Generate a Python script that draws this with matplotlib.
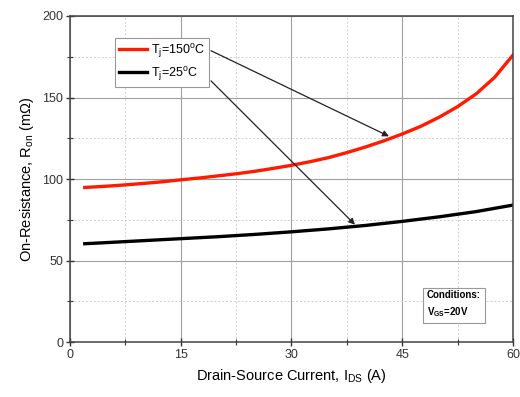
import matplotlib
matplotlib.use("Agg")
import matplotlib.pyplot as plt
from matplotlib.ticker import MultipleLocator

plt.rcParams['font.family'] = ['Liberation Sans', 'DejaVu Sans']
plt.rcParams['mathtext.default'] = 'regular'

# On-resistance vs drain current, read at two junction temperatures
ids_150 = [2, 5, 7.5, 10, 12.5, 15, 17.5, 20, 22.5, 25, 27.5, 30, 32.5, 35,
           37.5, 40, 42.5, 45, 47.5, 50, 52.5, 55, 57.5, 60]
ron_150 = [94.8, 95.6, 96.4, 97.3, 98.3, 99.5, 100.6, 101.9, 103.2, 104.7,
           106.5, 108.4, 110.6, 113.1, 116.2, 119.6, 123.4, 127.6, 132.3,
           137.9, 144.4, 152.2, 162.3, 176.0]

ids_25 = [2, 5, 10, 15, 20, 25, 30, 35, 40, 45, 50, 55, 60]
ron_25 = [60.3, 61.0, 62.2, 63.4, 64.6, 66.0, 67.6, 69.4, 71.5, 74.0, 76.8,
          80.0, 84.0]

labels = ['T$_j$=150$^o$C', 'T$_j$=25$^o$C']

fig = plt.figure(figsize=(5.2, 3.97), dpi=100)
ax = fig.add_axes([0.1346, 0.1385, 0.8519, 0.8212])

ax.plot(ids_150, ron_150, color='#ff1a00', lw=2.4, label=labels[0])
ax.plot(ids_25, ron_25, color='black', lw=2.4, label=labels[1])

ax.set_xlim(0, 60)
ax.set_ylim(0, 200)
ax.xaxis.set_major_locator(MultipleLocator(15))
ax.xaxis.set_minor_locator(MultipleLocator(7.5))
ax.yaxis.set_major_locator(MultipleLocator(50))
ax.yaxis.set_minor_locator(MultipleLocator(25))

ax.grid(which='major', color='#a0a0a0', lw=0.8)
ax.grid(which='minor', color='#d0d0d0', lw=0.7, linestyle=(0, (2, 2)))
ax.set_axisbelow(True)

for s in ax.spines.values():
    s.set_color('#444444')
    s.set_linewidth(1.1)
ax.tick_params(which='both', direction='inout', colors='#333333',
               labelsize=9, top=False, right=False)
ax.tick_params(which='major', length=6, width=1.0, pad=2)
ax.tick_params(which='minor', length=4, width=0.8)

ax.set_xlabel('Drain-Source Current, I$_{DS}$ (A)', fontsize=10.5, labelpad=4)
ax.set_ylabel('On-Resistance, R$_{on}$ (m\u03a9)', fontsize=10.5, labelpad=4)

leg = ax.legend(loc='upper left', bbox_to_anchor=(0.1016, 0.9325),
                borderaxespad=0, fontsize=9, handlelength=2.3,
                handletextpad=0.3, borderpad=0.3, labelspacing=0.4,
                fancybox=False, framealpha=1)
leg.get_frame().set_edgecolor('#999999')
leg.get_frame().set_linewidth(0.8)

# arrows from legend labels to their curves
ax.annotate('', xy=(43.2, 126.2), xytext=(19.1, 178.7),
            arrowprops=dict(arrowstyle='-|>', color='#222222', lw=0.9,
                            mutation_scale=9, shrinkA=0, shrinkB=0))
ax.annotate('', xy=(38.6, 72.0), xytext=(19.1, 160.2),
            arrowprops=dict(arrowstyle='-|>', color='#222222', lw=0.9,
                            mutation_scale=9, shrinkA=0, shrinkB=0))

ax.text(0.806, 0.115, 'Conditions:\nV$_{GS}$=20V', transform=ax.transAxes,
        fontsize=7, fontweight='bold', va='center', ha='left', linespacing=1.5,
        bbox=dict(boxstyle='square,pad=0.45', fc='white', ec='#999999', lw=0.8))

fig.savefig('out.png', dpi=100)
